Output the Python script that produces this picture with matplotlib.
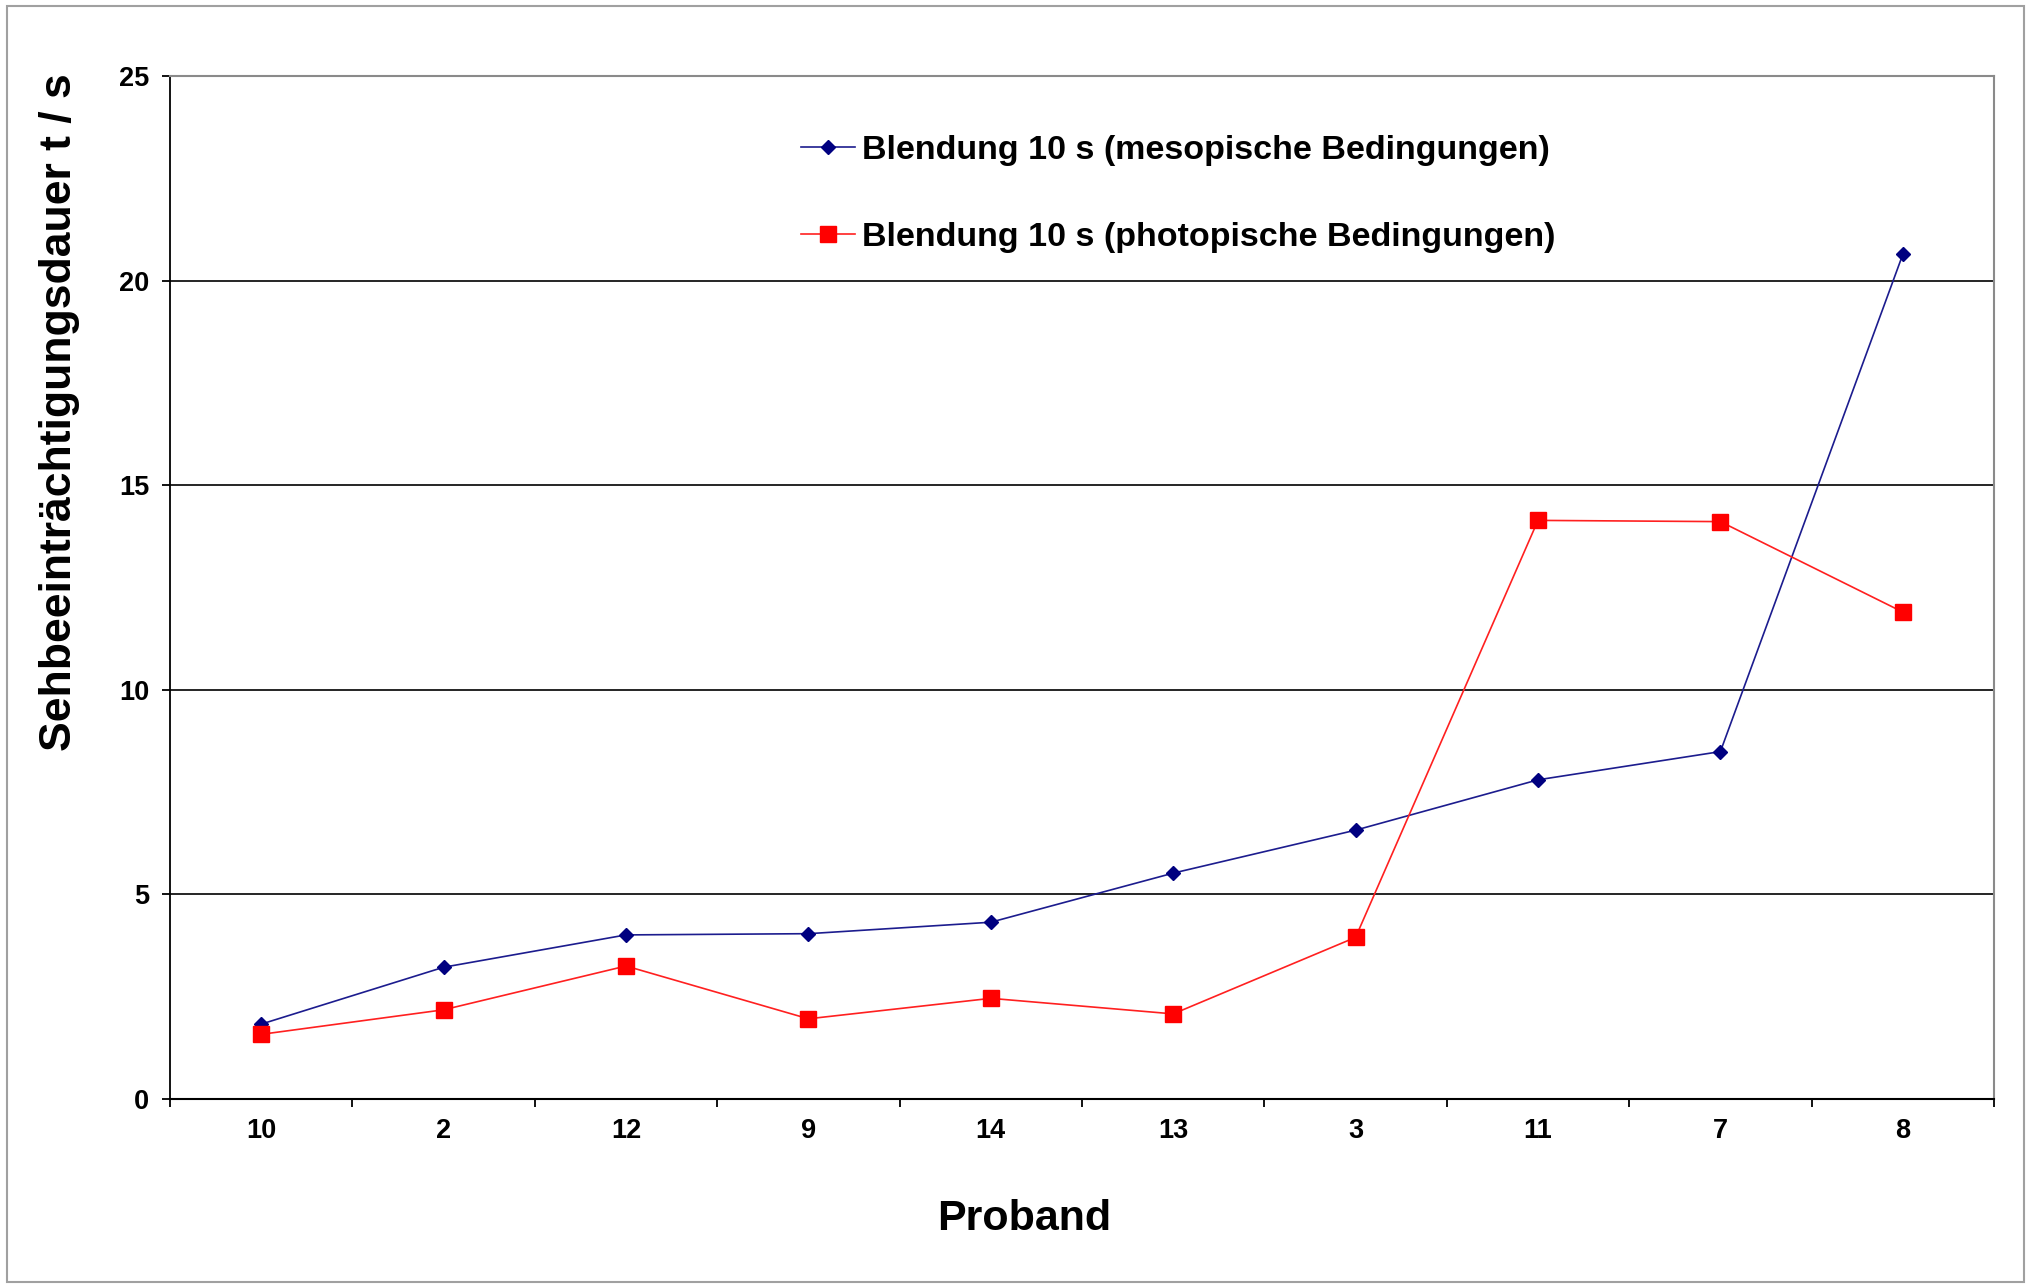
import matplotlib
matplotlib.use("Agg")
import matplotlib.pyplot as plt
from matplotlib.patches import Rectangle

# Probanden in Reihenfolge der Sehbeeintraechtigung
probanden = ["10", "2", "12", "9", "14", "13", "3", "11", "7", "8"]
mesopisch = [1.83, 3.22, 4.01, 4.04, 4.32, 5.52, 6.57, 7.80, 8.49, 20.64]
photopisch = [1.58, 2.18, 3.25, 1.96, 2.46, 2.08, 3.95, 14.14, 14.11, 11.90]
y_ticks = [0, 5, 10, 15, 20, 25]

label_meso = "Blendung 10 s (mesopische Bedingungen)"
label_photo = "Blendung 10 s (photopische Bedingungen)"

font_main = ["Liberation Sans", "DejaVu Sans"]

fig = plt.figure(figsize=(20.27, 12.85), dpi=100)
ax = fig.add_axes([170 / 2027, 1 - 1099 / 1285, (1994 - 170) / 2027, (1099 - 76) / 1285])

x = list(range(len(probanden)))
ax.plot(x, mesopisch, color="#1c1c8e", lw=1.2, marker="D", markersize=7,
        markerfacecolor="#000080", markeredgecolor="#000080", label=label_meso, zorder=3)
ax.plot(x, photopisch, color="#ff2020", lw=1.2, marker="s", markersize=11.5,
        markerfacecolor="#ff0000", markeredgecolor="#ff0000", label=label_photo, zorder=3)

ax.set_xlim(-0.5, len(probanden) - 0.5)
ax.set_ylim(0, 25)
ax.set_yticks(y_ticks)
ax.set_xticks(x)
ax.set_xticklabels(probanden)
ax.set_xticks([i - 0.5 for i in range(len(probanden) + 1)], minor=True)

ax.tick_params(axis="x", which="major", length=0, pad=14)
ax.tick_params(axis="x", which="minor", length=6, width=1.3, direction="out", color="black")
ax.tick_params(axis="y", which="major", length=6, width=1.3, direction="out", pad=9, color="black")
for lab in ax.get_xticklabels() + ax.get_yticklabels():
    lab.set_family(font_main)
    lab.set_fontweight("bold")
    lab.set_fontsize(19.5)

ax.set_axisbelow(True)
ax.yaxis.grid(True, color="black", lw=1.2)
ax.spines["left"].set_color("black")
ax.spines["bottom"].set_color("black")
ax.spines["left"].set_linewidth(1.3)
ax.spines["bottom"].set_linewidth(1.5)
ax.spines["top"].set_color("#8a8a8a")
ax.spines["right"].set_color("#8a8a8a")
ax.spines["top"].set_linewidth(1.5)
ax.spines["right"].set_linewidth(1.5)

leg = ax.legend(loc="upper left", bbox_to_anchor=(801 / 2027, 1 - 135 / 1285),
                bbox_transform=fig.transFigure, frameon=False, borderaxespad=0,
                borderpad=0, handlelength=1.6, handletextpad=0.2, labelspacing=1.65,
                prop={"family": font_main, "weight": "bold", "size": 24.5})

fig.text(1024 / 2027, 1 - 1219 / 1285, "Proband", ha="center", va="center",
         family=font_main, fontweight="bold", fontsize=31)
fig.text(60 / 2027, 1 - 412 / 1285, "Sehbeeinträchtigungsdauer t / s", ha="center",
         va="center", rotation=90, family=font_main, fontweight="bold", fontsize=32)

# Rahmen um das gesamte Diagramm
fig.patches.append(Rectangle((7 / 2027, 1 - 1282 / 1285), 2017 / 2027, 1276 / 1285,
                             transform=fig.transFigure, fill=False,
                             edgecolor="#a0a0a0", lw=1.5))

fig.savefig("out.png", dpi=100)
